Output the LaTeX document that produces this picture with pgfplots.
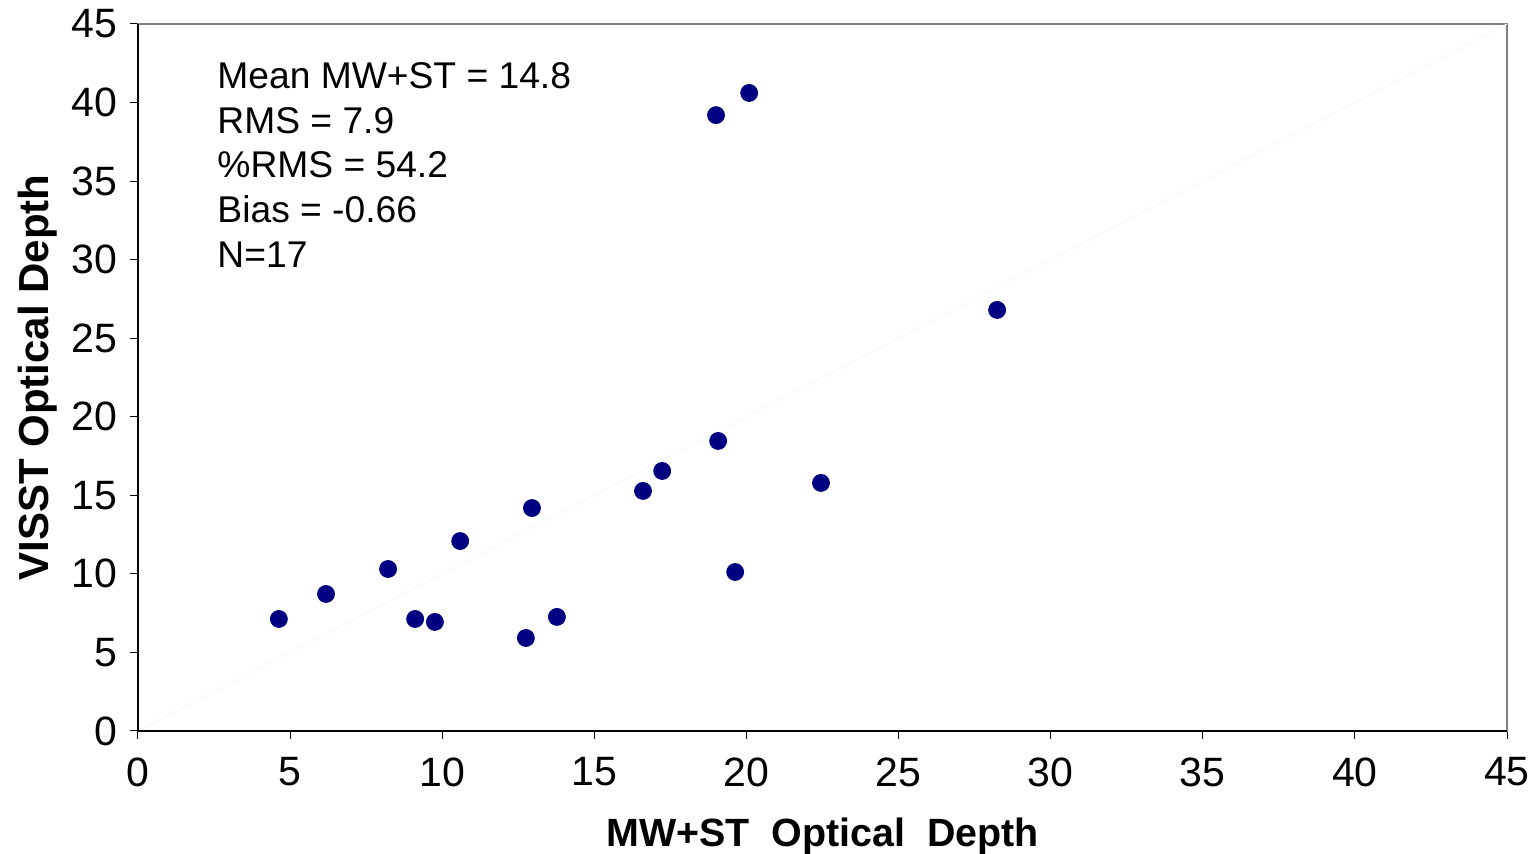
\documentclass[border=0pt]{standalone}
\usepackage{pgfplots}
\pgfplotsset{compat=1.18}
\usepackage{fontspec}
\setmainfont{Liberation Sans}
\definecolor{navyblue}{RGB}{0,0,128}
\definecolor{framegray}{RGB}{128,128,128}

\pgfplotstableread{
x y
4.63 7.13
6.18 8.72
8.22 10.31
9.11 7.13
9.76 6.94
10.59 12.09
12.75 5.92
12.95 14.19
13.77 7.26
16.60 15.28
17.23 16.55
19.00 39.20
19.07 18.46
19.63 10.12
20.09 40.61
22.45 15.79
28.24 26.80
}\datatable

\begin{document}
\begin{tikzpicture}
\begin{axis}[
  at={(0,0)}, anchor=south west,
  scale only axis, width=684.5pt, height=353.5pt,
  xmin=0, xmax=45, ymin=0, ymax=45,
  xtick={0,5,...,45}, ytick={0,5,...,45},
  xtick pos=bottom, ytick pos=left,
  tick align=outside, major tick length=4pt,
  tick style={black, line width=0.5pt},
  axis line style={draw=framegray, line width=1.2pt},
  /pgf/number format/assume math mode=true,
  xticklabel style={font=\fontsize{20.5}{22}\selectfont, anchor=north, inner sep=0pt, yshift=-9pt},
  yticklabel style={font=\fontsize{20.5}{22}\selectfont, anchor=east, inner sep=0pt, xshift=-6pt},
  xlabel={MW+ST\ \ Optical\ \ Depth},
  ylabel={VISST Optical Depth},
  xlabel style={font=\fontsize{19.7}{22}\selectfont\bfseries, at={(axis description cs:0.5,-0.16407)}, anchor=base, inner sep=0pt},
  ylabel style={font=\fontsize{21}{22}\selectfont\bfseries, at={(axis description cs:-0.06574,0.5)}, anchor=base, inner sep=0pt},
  clip=false,
]
\addplot[draw=black!3, line width=0.5pt, forget plot] coordinates {(0,0) (45,45)};
\draw[black, line width=0.6pt] (rel axis cs:0,1) -- (rel axis cs:0,0) -- (rel axis cs:1,0);
\addplot[only marks, mark=*, mark size=4.25pt, mark options={fill=navyblue, draw=navyblue}] table[x=x, y=y] {\datatable};
\begin{scope}[every node/.style={anchor=base west, inner sep=0pt, font=\fontsize{18.6}{20}\selectfont}]
\node at (axis cs:2.6,40.91) {Mean MW+ST = 14.8};
\node at (axis cs:2.6,38.04) {RMS = 7.9};
\node at (axis cs:2.6,35.24) {\%RMS = 54.2};
\node at (axis cs:2.6,32.38) {Bias = -0.66};
\node at (axis cs:2.6,29.52) {N=17};
\end{scope}
\end{axis}
\pgfresetboundingbox
\path[use as bounding box] (-69pt,-61.5pt) rectangle (699.5pt,365.5pt);
\end{tikzpicture}
\end{document}
